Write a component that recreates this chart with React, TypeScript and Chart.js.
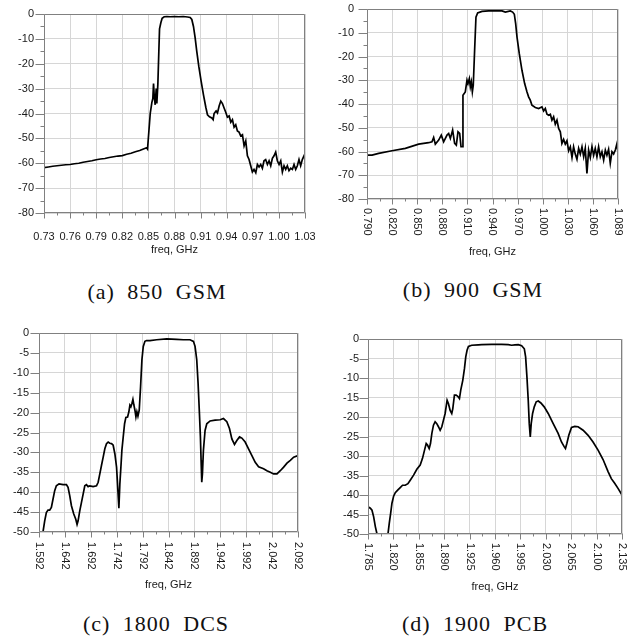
import { useEffect, useRef } from "react";
import { Chart, registerables } from "chart.js";

Chart.register(...registerables);

// ---------- (a) 850 GSM ----------
const FREQ_A = [
  0.730, 0.735, 0.740, 0.745, 0.750, 0.755, 0.760, 0.765, 0.770, 0.775, 0.780, 0.785, 0.790, 0.795, 0.800, 0.805,
  0.810, 0.815, 0.820, 0.825, 0.830, 0.835, 0.840, 0.845, 0.848, 0.849,
  0.8521, 0.8540, 0.8551, 0.8559, 0.8567, 0.8578, 0.8590, 0.8597, 0.8609, 0.8620, 0.8628, 0.8643, 0.8658, 0.8681, 0.8712,
  0.875, 0.880, 0.885, 0.890, 0.895, 0.898,
  0.8999, 0.9018, 0.9037, 0.9056, 0.9079, 0.9106, 0.9133, 0.9160, 0.9179, 0.9202, 0.9229, 0.9244,
  0.9255, 0.9278, 0.9294, 0.9313, 0.9332, 0.9351, 0.9370, 0.9389, 0.9408, 0.9428,
  0.9447, 0.9466, 0.9485, 0.9504, 0.9523, 0.9542, 0.9561, 0.9581, 0.9600, 0.9619,
  0.9638, 0.9657, 0.9676, 0.9695, 0.9714, 0.9734, 0.9753, 0.9772, 0.9791, 0.9810,
  0.9829, 0.9848, 0.9868, 0.9887, 0.9906, 0.9925, 0.9944, 0.9963, 0.9982, 1.0002,
  1.0021, 1.0040, 1.0059, 1.0078, 1.0097, 1.0116, 1.0136, 1.0155, 1.0174, 1.0193,
  1.0212, 1.0231, 1.0250, 1.0269, 1.0289, 1.0299, 1.0300,
];
const S21_A = [
  -61.8, -61.5, -61.2, -61.0, -60.8, -60.6, -60.5, -60.2, -60.0, -59.6, -59.3, -59.0, -58.6, -58.3, -58.1, -57.7,
  -57.4, -57.1, -56.9, -56.4, -56.0, -55.4, -54.9, -54.2, -53.8, -54.3,
  -40, -35.5, -34, -28, -33, -36.5, -30, -36, -28, -15, -6, -3.5, -1.7, -1.1, -1.0,
  -1.1, -1.0, -1.1, -1.0, -1.2, -1.4,
  -2.2, -5, -9.5, -15, -21, -27, -32.5, -37.5, -40.5, -41.3, -41.8, -42.5,
  -40, -39, -39.8, -37, -35, -36, -37.8, -39.5, -41.5, -41,
  -43.5, -42.5, -45.5, -44.5, -47, -47.5, -49, -48.5, -53, -51,
  -57, -58.5, -61, -63.5, -62.5, -63.8, -60.5, -61.5, -60.5, -62,
  -59, -58.5, -60.5, -59, -61, -58, -57, -55.5, -59, -60.5,
  -59, -63.5, -61, -62.5, -61, -63, -62, -62.5, -60.5, -62.5,
  -61, -58.5, -61, -58.5, -57, -57.5, -62,
];
const X_LABELS_A = ["0.73", "0.76", "0.79", "0.82", "0.85", "0.88", "0.91", "0.94", "0.97", "1.00", "1.03"];
const Y_TICKS_A = [0, -10, -20, -30, -40, -50, -60, -70, -80];

// ---------- (b) 900 GSM ----------
const FREQ_B = [
  0.790, 0.796, 0.8039, 0.8198, 0.8357, 0.8515, 0.8634, 0.8674, 0.8694, 0.8714,
  0.8754, 0.8785, 0.8813, 0.8853, 0.8873, 0.8893, 0.8920, 0.8944, 0.8964, 0.8984,
  0.9004, 0.9020, 0.9035, 0.9043, 0.9071, 0.9091, 0.9103, 0.9119, 0.9131, 0.9143,
  0.9155, 0.9166, 0.9182, 0.9198, 0.9218, 0.9270, 0.9389, 0.9508, 0.9548, 0.9607,
  0.9635, 0.9655, 0.9671, 0.9687, 0.9714, 0.9746, 0.9778, 0.9806, 0.9825, 0.9845,
  0.9865, 0.9905, 0.9945, 0.9984, 1.0004, 1.0024, 1.0044, 1.0064, 1.0084, 1.0103,
  1.0123, 1.0143, 1.0163, 1.0183, 1.0203, 1.0222, 1.0242, 1.0262, 1.0282, 1.0302,
  1.0322, 1.0342, 1.0361, 1.0381, 1.0401, 1.0421, 1.0441, 1.0461, 1.0481, 1.0500,
  1.0520, 1.0540, 1.0560, 1.0580, 1.0600, 1.0619, 1.0639, 1.0659, 1.0679, 1.0699,
  1.0719, 1.0739, 1.0758, 1.0778, 1.0798, 1.0818, 1.0838, 1.0858, 1.0878, 1.0889,
];
const S21_B = [
  -61.5, -61.5, -60.8, -59.7, -58.7, -56.9, -56.3, -55.9, -54.1, -56.9,
  -55.2, -53.1, -55.9, -53.1, -52.4, -54.5, -51.0, -56.6, -57.3, -51.7,
  -52.4, -58.0, -58.0, -36.3, -34.9, -30.0, -31.4, -29.3, -32.8, -30.7,
  -34.9, -32.1, -17.4, -3.4, -1.7, -1.0, -0.7, -0.8, -1.3, -0.8,
  -1.3, -2.2, -6.2, -11.8, -18.8, -25.8, -31.4, -34.9, -37.0, -38.4,
  -40.5, -41.5, -41.9, -41.2, -42.9, -41.9, -44.3, -44.7, -44.3, -46.8,
  -45.4, -48.5, -46.8, -50.3, -51.7, -56.6, -54.9, -56.9, -55.5, -59.7,
  -58.0, -62.5, -58.0, -61.1, -63.3, -58.7, -61.1, -58.0, -62.2, -58.7,
  -69.2, -59.4, -62.5, -58.0, -61.6, -58.7, -62.2, -58.0, -62.2, -60.1,
  -63.6, -59.4, -61.6, -59.1, -65.0, -60.1, -61.1, -59.4, -56.6, -60.1,
];
const X_LABELS_B = ["0.790", "0.820", "0.850", "0.880", "0.910", "0.940", "0.970", "1.000", "1.030", "1.060", "1.089"];
const Y_TICKS_B = [0, -10, -20, -30, -40, -50, -60, -70, -80];

// ---------- (c) 1800 DCS ----------
const FREQ_C = [
  1.5970, 1.5997, 1.6030, 1.6062, 1.6094, 1.6126, 1.6159, 1.6191, 1.6223, 1.6255,
  1.6307, 1.6385, 1.6449, 1.6481, 1.6514, 1.6546, 1.6591, 1.6630, 1.6655, 1.6675,
  1.6707, 1.6739, 1.6772, 1.6804, 1.6836, 1.6868, 1.6901, 1.6965, 1.7030, 1.7062,
  1.7094, 1.7126, 1.7159, 1.7191, 1.7223, 1.7255, 1.7288, 1.7320, 1.7352, 1.7385,
  1.7417, 1.7436, 1.7462, 1.7481, 1.7501, 1.7520, 1.7546, 1.7572, 1.7597, 1.7630,
  1.7655, 1.7675, 1.7694, 1.7714, 1.7733, 1.7752, 1.7772, 1.7791, 1.7810, 1.7830,
  1.7855, 1.7881, 1.7907, 1.7933, 1.7965, 1.7997, 1.8062, 1.8191, 1.8385, 1.8578,
  1.8707, 1.8836, 1.8901, 1.8933, 1.8965, 1.8991, 1.9017, 1.9036, 1.9049, 1.9062,
  1.9075, 1.9094, 1.9126, 1.9159, 1.9223, 1.9320, 1.9417, 1.9481, 1.9546, 1.9597,
  1.9643, 1.9694, 1.9739, 1.9791, 1.9836, 1.9900, 1.9965, 2.0030, 2.0094, 2.0159,
  2.0255, 2.0320, 2.0385, 2.0449, 2.0514, 2.0578, 2.0643, 2.0707, 2.0772, 2.0836,
  2.0920,
];
const S21_C = [
  -52, -50, -47.2, -45.1, -44.5, -44.5, -43.8, -41.7, -39.6, -38.4,
  -37.9, -38.1, -38.1, -38.8, -40.9, -43.4, -45.5, -46.8, -48.1, -47.2,
  -44.7, -42.6, -40.5, -38.4, -38.1, -38.6, -38.4, -38.6, -38.4, -37.5,
  -35.4, -33.3, -31.2, -29.1, -27.8, -27.4, -27.7, -27.8, -28.2, -30.4,
  -33.7, -37.9, -44.0, -37.9, -33.7, -29.5, -26.1, -22.8, -21.2, -21.1,
  -19.8, -18.1, -18.5, -17.7, -16.7, -18.1, -19.4, -21.1, -19.8, -20.9,
  -19.4, -13.5, -6.7, -3.4, -2.1, -1.9, -1.9, -1.7, -1.5, -1.6,
  -1.7, -1.7, -2.1, -3.4, -6.7, -12.6, -20.2, -26.1, -32.0, -37.5,
  -35.4, -29.5, -24.5, -22.8, -22.1, -21.9, -21.8, -21.5, -22.3, -24.0,
  -26.6, -28.0, -27.0, -26.1, -26.4, -27.4, -29.1, -30.8, -32.5, -33.6,
  -34.1, -34.6, -35.0, -35.4, -35.4, -34.6, -33.7, -32.7, -32.0, -31.2,
  -30.8,
];
const X_LABELS_C = ["1.592", "1.642", "1.692", "1.742", "1.792", "1.842", "1.892", "1.942", "1.992", "2.042", "2.092"];
const Y_TICKS_C = [0, -5, -10, -15, -20, -25, -30, -35, -40, -45, -50];

// ---------- (d) 1900 PCB ----------
const FREQ_D = [
  1.7850, 1.7882, 1.7905, 1.7928, 1.7951, 1.7974, 1.7987, 1.8111, 1.8125, 1.8143,
  1.8162, 1.8180, 1.8203, 1.8226, 1.8262, 1.8294, 1.8326, 1.8363, 1.8400, 1.8432,
  1.8478, 1.8523, 1.8569, 1.8601, 1.8629, 1.8652, 1.8670, 1.8693, 1.8711, 1.8730,
  1.8752, 1.8775, 1.8798, 1.8821, 1.8844, 1.8867, 1.8890, 1.8913, 1.8940, 1.8959,
  1.8982, 1.9004, 1.9018, 1.9041, 1.9064, 1.9087, 1.9110, 1.9128, 1.9156, 1.9179,
  1.9197, 1.9215, 1.9234, 1.9279, 1.9371, 1.9417, 1.9554, 1.9692, 1.9783, 1.9829,
  1.9875, 1.9921, 1.9967, 2.0004, 2.0022, 2.0040, 2.0058, 2.0072, 2.0086, 2.0099,
  2.0118, 2.0141, 2.0168, 2.0196, 2.0232, 2.0278, 2.0333, 2.0402, 2.0470, 2.0516,
  2.0553, 2.0571, 2.0590, 2.0617, 2.0654, 2.0699, 2.0745, 2.0814, 2.0883, 2.0951,
  2.1020, 2.1089, 2.1158, 2.1203, 2.1249, 2.1295, 2.1350,
];
const S21_D = [
  -43.0, -43.4, -43.9, -45.6, -48.1, -50.0, -52, -52, -50.0, -47.3,
  -44.7, -42.1, -40.3, -39.4, -38.7, -38.1, -37.5, -37.5, -37.1, -36.2,
  -34.9, -33.4, -32.3, -30.6, -28.5, -26.8, -27.2, -28.1, -26.8, -24.2,
  -22.1, -21.2, -21.7, -22.5, -23.4, -22.5, -20.8, -19.1, -15.7, -16.6,
  -18.3, -19.1, -17.9, -14.4, -14.4, -14.7, -15.3, -13.1, -10.6, -7.6,
  -4.6, -2.9, -1.9, -1.6, -1.5, -1.45, -1.4, -1.4, -1.45, -1.6,
  -1.5, -1.45, -1.7, -2.5, -4.6, -9.7, -15.7, -21.7, -25.1, -21.7,
  -19.1, -17.4, -16.1, -15.9, -16.4, -17.4, -19.1, -21.7, -24.2, -26.4,
  -27.6, -28.1, -26.8, -24.7, -22.7, -22.4, -22.5, -23.4, -24.7, -26.4,
  -28.5, -30.9, -34.0, -35.8, -37.0, -38.3, -40.0,
];
const X_LABELS_D = ["1.785", "1.820", "1.855", "1.890", "1.925", "1.960", "1.995", "2.030", "2.065", "2.100", "2.135"];
const Y_TICKS_D = [0, -5, -10, -15, -20, -25, -30, -35, -40, -45, -50];

const X_TITLE = "freq, GHz";
const CAPTIONS = ["(a) 850 GSM", "(b) 900 GSM", "(c) 1800 DCS", "(d) 1900 PCB"];

type PanelCfg = {
  freq: number[];
  s21: number[];
  xLabels: string[];
  xMin: number;
  xMax: number;
  yTicks: number[];
  box: { left: number; top: number; width: number; height: number };
  area: { left: number; top: number; right: number; bottom: number };
  rotate: boolean;
  yLabelGap: number;
  xLabelOff: number;
  titleOff: number;
  yMinor: boolean;
};

const PANELS: PanelCfg[] = [
  {
    freq: FREQ_A, s21: S21_A, xLabels: X_LABELS_A, xMin: 0.73, xMax: 1.03, yTicks: Y_TICKS_A,
    box: { left: 0, top: 0, width: 315, height: 270 },
    area: { left: 44, top: 14, right: 305, bottom: 213 },
    rotate: false, yLabelGap: 10, xLabelOff: 24, titleOff: 37, yMinor: true,
  },
  {
    freq: FREQ_B, s21: S21_B, xLabels: X_LABELS_B, xMin: 0.79, xMax: 1.089, yTicks: Y_TICKS_B,
    box: { left: 315, top: 0, width: 315, height: 270 },
    area: { left: 367, top: 9, right: 618, bottom: 199 },
    rotate: true, yLabelGap: 13, xLabelOff: 9, titleOff: 53, yMinor: true,
  },
  {
    freq: FREQ_C, s21: S21_C, xLabels: X_LABELS_C, xMin: 1.592, xMax: 2.092, yTicks: Y_TICKS_C,
    box: { left: 0, top: 310, width: 315, height: 290 },
    area: { left: 39, top: 333, right: 298, bottom: 532 },
    rotate: true, yLabelGap: 10, xLabelOff: 10, titleOff: 53, yMinor: false,
  },
  {
    freq: FREQ_D, s21: S21_D, xLabels: X_LABELS_D, xMin: 1.785, xMax: 2.135, yTicks: Y_TICKS_D,
    box: { left: 315, top: 310, width: 315, height: 290 },
    area: { left: 368, top: 339, right: 622, bottom: 534 },
    rotate: true, yLabelGap: 9, xLabelOff: 9, titleOff: 53, yMinor: false,
  },
];

const CAPTION_POS = [
  { cx: 157, cy: 292 },
  { cx: 473, cy: 290 },
  { cx: 156, cy: 624 },
  { cx: 475, cy: 624 },
];

const AXIS_COLOR = "#808080";
const GRID_COLOR = "#d6d6d6";
const TEXT_COLOR = "#1a1a1a";
const TICK_FONT = '11px "Liberation Sans", Arial, sans-serif';

function makeDecor(p: PanelCfg) {
  return {
    id: "decor",
    afterDraw(chart: any) {
      const { ctx, chartArea: a } = chart;
      const xs = chart.scales.x;
      const ys = chart.scales.y;
      const L = Math.round(a.left) + 0.5;
      const R = Math.round(a.right) - 0.5;
      const T = Math.round(a.top) + 0.5;
      const B = Math.round(a.bottom) - 0.5;
      ctx.save();
      ctx.strokeStyle = AXIS_COLOR;
      ctx.lineWidth = 1;
      ctx.beginPath();
      ctx.rect(L, T, R - L, B - T);
      ctx.stroke();

      // y ticks
      const yv: number[] = ys.ticks.map((t: any) => t.value);
      ctx.beginPath();
      yv.forEach((v) => {
        const py = Math.round(ys.getPixelForValue(v)) + 0.5;
        ctx.moveTo(L - 9, py);
        ctx.lineTo(L, py);
      });
      if (p.yMinor) {
        for (let i = 0; i < yv.length - 1; i++) {
          const py = Math.round(ys.getPixelForValue((yv[i] + yv[i + 1]) / 2)) + 0.5;
          ctx.moveTo(L - 4, py);
          ctx.lineTo(L, py);
        }
      }
      // x ticks
      const xv: number[] = xs.ticks.map((t: any) => t.value);
      xv.forEach((v) => {
        const px = Math.round(xs.getPixelForValue(v)) + 0.5;
        ctx.moveTo(px, B);
        ctx.lineTo(px, B + 6);
      });
      for (let i = 0; i < xv.length - 1; i++) {
        const px = Math.round(xs.getPixelForValue((xv[i] + xv[i + 1]) / 2)) + 0.5;
        ctx.moveTo(px, B);
        ctx.lineTo(px, B + 3);
      }
      ctx.stroke();

      ctx.fillStyle = TEXT_COLOR;
      ctx.font = TICK_FONT;
      // y labels
      ctx.textAlign = "right";
      ctx.textBaseline = "middle";
      yv.forEach((v) => {
        ctx.fillText(String(v), a.left - p.yLabelGap, ys.getPixelForValue(v));
      });
      // x labels
      xv.forEach((v, i) => {
        const px = xs.getPixelForValue(v);
        const label = p.xLabels[i] ?? "";
        if (p.rotate) {
          ctx.save();
          ctx.translate(px, a.bottom + p.xLabelOff);
          ctx.rotate(Math.PI / 2);
          ctx.textAlign = "left";
          ctx.textBaseline = "middle";
          ctx.fillText(label, 0, 0);
          ctx.restore();
        } else {
          ctx.textAlign = "center";
          ctx.textBaseline = "middle";
          ctx.fillText(label, px, a.bottom + p.xLabelOff);
        }
      });
      // title
      ctx.textAlign = "center";
      ctx.textBaseline = "middle";
      ctx.fillText(X_TITLE, (a.left + a.right) / 2, a.bottom + p.titleOff);
      ctx.restore();
    },
  };
}

function Panel({ p }: { p: PanelCfg }) {
  const ref = useRef<HTMLCanvasElement | null>(null);
  useEffect(() => {
    if (!ref.current) return;
    const yW = p.area.left - p.box.left;
    const xH = p.box.top + p.box.height - p.area.bottom;
    const padTop = p.area.top - p.box.top;
    const padRight = p.box.left + p.box.width - p.area.right;
    const n = Math.min(p.freq.length, p.s21.length);
    const pts = [];
    for (let i = 0; i < n; i++) pts.push({ x: p.freq[i], y: p.s21[i] });
    const nx = p.xLabels.length;
    const yMin = Math.min(...p.yTicks);
    const yMax = Math.max(...p.yTicks);
    const chart = new Chart(ref.current, {
      type: "line",
      data: {
        datasets: [
          {
            data: pts,
            borderColor: "#000",
            borderWidth: 1.7,
            pointRadius: 0,
            tension: 0,
            fill: false,
          },
        ],
      },
      options: {
        responsive: false,
        animation: false,
        events: [],
        layout: { padding: { top: padTop, right: padRight, left: 0, bottom: 0 } },
        plugins: { legend: { display: false }, tooltip: { enabled: false } },
        scales: {
          x: {
            type: "linear",
            min: p.xMin,
            max: p.xMax,
            afterBuildTicks: (s: any) => {
              s.ticks = p.xLabels.map((_, i) => ({ value: p.xMin + (i * (p.xMax - p.xMin)) / (nx - 1) }));
            },
            ticks: { display: false },
            grid: { color: GRID_COLOR, drawTicks: false, lineWidth: 1 },
            border: { display: false },
            afterFit: (s: any) => {
              s.height = xH;
            },
          },
          y: {
            type: "linear",
            min: yMin,
            max: yMax,
            afterBuildTicks: (s: any) => {
              s.ticks = p.yTicks.map((v) => ({ value: v }));
            },
            ticks: { display: false },
            grid: { color: GRID_COLOR, drawTicks: false, lineWidth: 1 },
            border: { display: false },
            afterFit: (s: any) => {
              s.width = yW;
            },
          },
        },
      } as any,
      plugins: [makeDecor(p)],
    });
    return () => chart.destroy();
  }, [p]);
  return (
    <canvas
      ref={ref}
      width={p.box.width}
      height={p.box.height}
      style={{ position: "absolute", left: p.box.left, top: p.box.top, width: p.box.width, height: p.box.height }}
    />
  );
}

export default function App() {
  return (
    <div style={{ position: "absolute", left: 0, top: 0, width: 630, height: 639, background: "#fff", overflow: "hidden" }}>
      {PANELS.map((p, i) => (
        <Panel key={i} p={p} />
      ))}
      {CAPTIONS.map((c, i) => (
        <div
          key={c}
          style={{
            position: "absolute",
            left: CAPTION_POS[i].cx - 120,
            top: CAPTION_POS[i].cy - 13,
            width: 240,
            height: 26,
            lineHeight: "26px",
            textAlign: "center",
            font: '22px "Liberation Serif", "DejaVu Serif", serif',
            letterSpacing: 1,
            wordSpacing: 6,
            color: "#111",
            whiteSpace: "nowrap",
          }}
        >
          {c}
        </div>
      ))}
    </div>
  );
}
